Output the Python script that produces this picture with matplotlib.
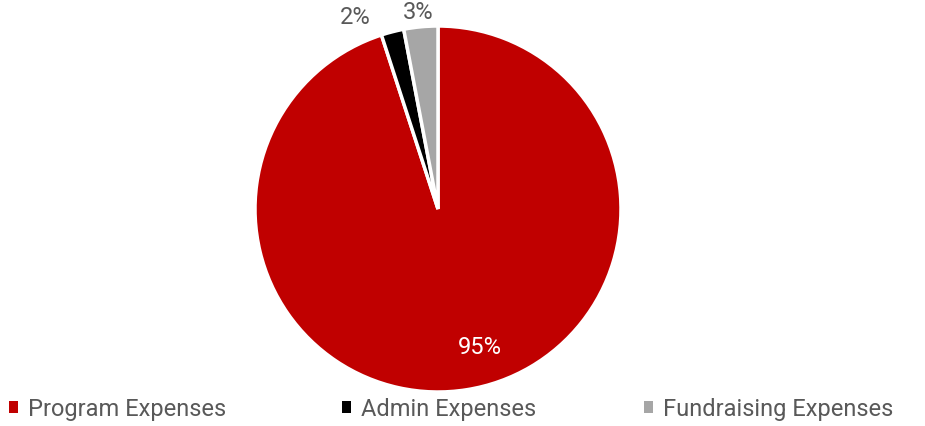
import matplotlib.pyplot as plt
from matplotlib.patches import Patch

plt.rcParams['font.family'] = ['Roboto', 'DejaVu Sans']

categories = ['Program Expenses', 'Admin Expenses', 'Fundraising Expenses']
values = [95, 2, 3]
colors = ['#C00000', '#000000', '#A6A6A6']
label_pos = [(0.23, -0.75), (-0.45, 1.05), (-0.11, 1.08)]
label_colors = ['white', '#595959', '#595959']
legend_x = [9, 342, 644]

fig = plt.figure(figsize=(9.25, 4.27), dpi=100)
ax = fig.add_axes([255 / 925, 34 / 427, 366 / 925, 366 / 427])

wedges, texts = ax.pie(values, colors=colors, startangle=90, counterclock=False,
                       radius=1, wedgeprops=dict(edgecolor='white', linewidth=2.5))
ax.set_xlim(-1, 1)
ax.set_ylim(-1, 1)
ax.set_aspect('auto')
ax.axis('off')

# percentage labels
for v, (x, y), c in zip(values, label_pos, label_colors):
    ax.text(x, y, '{}%'.format(v), color=c, fontsize=17, ha='center', va='center')

# one legend entry per column, placed like the original
for cat, c, lx in zip(categories, colors, legend_x):
    fig.legend([Patch(facecolor=c, edgecolor='none')], [cat], loc='center left',
               bbox_to_anchor=(lx / 925, 0.04), frameon=False, fontsize=17,
               labelcolor='#595959', handlelength=0.39, handleheight=0.39,
               handletextpad=0.42, borderpad=0, borderaxespad=0)

fig.savefig('out.png', dpi=100)
